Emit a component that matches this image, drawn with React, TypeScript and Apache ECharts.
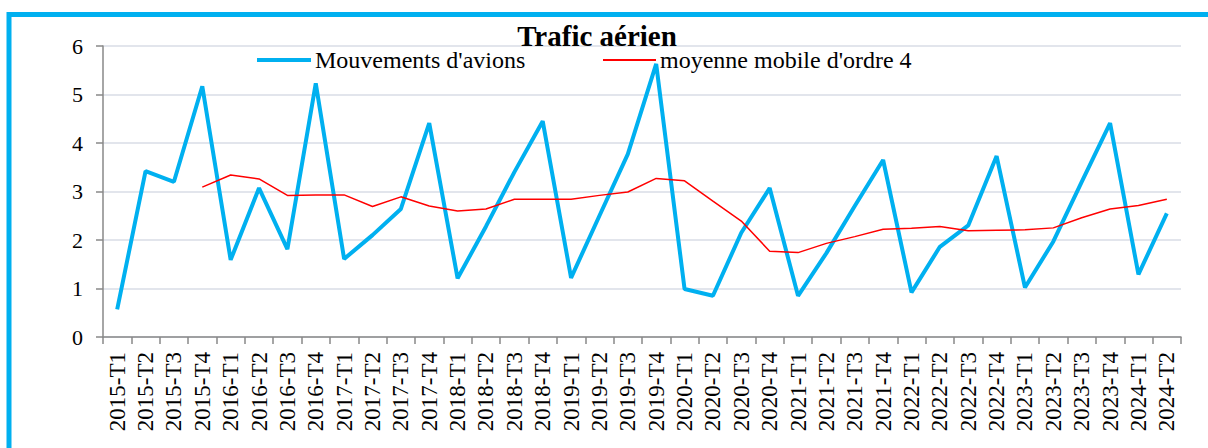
import React, { useEffect, useRef } from "react";
import * as echarts from "echarts";

const categories: string[] = [
  "2015-T1", "2015-T2", "2015-T3", "2015-T4",
  "2016-T1", "2016-T2", "2016-T3", "2016-T4",
  "2017-T1", "2017-T2", "2017-T3", "2017-T4",
  "2018-T1", "2018-T2", "2018-T3", "2018-T4",
  "2019-T1", "2019-T2", "2019-T3", "2019-T4",
  "2020-T1", "2020-T2", "2020-T3", "2020-T4",
  "2021-T1", "2021-T2", "2021-T3", "2021-T4",
  "2022-T1", "2022-T2", "2022-T3", "2022-T4",
  "2023-T1", "2023-T2", "2023-T3", "2023-T4",
  "2024-T1", "2024-T2",
];

const mouvements: number[] = [
  0.57, 3.42, 3.2, 5.17,
  1.59, 3.07, 1.81, 5.23,
  1.61, 2.1, 2.64, 4.41,
  1.21, 2.28, 3.4, 4.45,
  1.22, 2.5, 3.77, 5.63,
  0.99, 0.85, 2.15, 3.07,
  0.85, 1.73, 2.7, 3.65,
  0.92, 1.86, 2.3, 3.73,
  1.02, 1.97, 3.2, 4.41,
  1.29, 2.55,
];

const moyenneMobile: (number | null)[] = [
  null, null, null, 3.09,
  3.34, 3.26, 2.92, 2.93,
  2.93, 2.69, 2.89, 2.7,
  2.6, 2.64, 2.84, 2.84,
  2.84, 2.92, 2.99, 3.27,
  3.22, 2.8, 2.39, 1.77,
  1.74, 1.93, 2.07, 2.22,
  2.24, 2.28, 2.19, 2.2,
  2.21, 2.25, 2.46, 2.64,
  2.71, 2.84,
];

const yTicks = { min: 0, max: 6, interval: 1 };

const SERIF = "Liberation Serif";

export default function App() {
  const ref = useRef<HTMLDivElement>(null);
  useEffect(() => {
    if (!ref.current) return;
    const chart = echarts.init(ref.current, undefined, { renderer: "svg" });
    chart.setOption({
      animation: false,
      backgroundColor: "#ffffff",
      textStyle: { fontFamily: SERIF, color: "#000" },
      title: {
        text: "Trafic aérien",
        left: 592,
        top: 16,
        textAlign: "center",
        textStyle: {
          fontFamily: SERIF,
          fontWeight: "bold",
          fontSize: 29,
          color: "#000",
        },
      },
      legend: [
        {
          data: ["Mouvements d'avions"],
          left: 257,
          top: 48,
          padding: 0,
          itemWidth: 54,
          itemHeight: 4,
          itemGap: 5,
          icon: "rect",
          textStyle: { fontFamily: SERIF, fontSize: 24, color: "#000", padding: [0, 0, 0, -1] },
        },
        {
          data: ["moyenne mobile d'ordre 4"],
          left: 603,
          top: 48,
          padding: 0,
          itemWidth: 53,
          itemHeight: 2,
          itemGap: 5,
          icon: "rect",
          textStyle: { fontFamily: SERIF, fontSize: 24, color: "#000", padding: [0, 0, 0, -1] },
        },
      ],
      grid: { left: 103, right: 27, top: 46, bottom: 111, containLabel: false },
      xAxis: {
        type: "category",
        data: categories,
        boundaryGap: true,
        axisLine: { lineStyle: { color: "#898989", width: 1.5 } },
        axisTick: { show: true, length: 7, lineStyle: { color: "#898989", width: 1.5 } },
        axisLabel: {
          rotate: 90,
          interval: 0,
          margin: 15,
          fontFamily: SERIF,
          fontSize: 23,
          color: "#000",
        },
      },
      yAxis: {
        type: "value",
        min: yTicks.min,
        max: yTicks.max,
        interval: yTicks.interval,
        axisLine: { show: true, lineStyle: { color: "#898989", width: 1.5 } },
        axisTick: { show: true, length: 7, lineStyle: { color: "#898989", width: 1.5 } },
        axisLabel: { margin: 20, fontFamily: SERIF, fontSize: 22, color: "#000" },
        splitLine: { show: true, lineStyle: { color: "#d9dce6", width: 1.5 } },
      },
      series: [
        {
          name: "Mouvements d'avions",
          type: "line",
          data: mouvements,
          symbol: "none",
          lineStyle: { color: "#00b0f0", width: 4 },
          itemStyle: { color: "#00b0f0" },
          z: 2,
        },
        {
          name: "moyenne mobile d'ordre 4",
          type: "line",
          data: moyenneMobile,
          symbol: "none",
          lineStyle: { color: "#ff0000", width: 1.5 },
          itemStyle: { color: "#ff0000" },
          z: 3,
        },
      ],
      graphic: [
        {
          type: "rect",
          shape: { x: 9, y: 14.5, width: 1250, height: 500 },
          style: { fill: "none", stroke: "#00b0f0", lineWidth: 5 },
          silent: true,
          z: 100,
        },
      ],
    });
    return () => chart.dispose();
  }, []);
  return (
    <div
      ref={ref}
      style={{ position: "fixed", left: 0, top: 0, width: 1208, height: 448 }}
    />
  );
}
